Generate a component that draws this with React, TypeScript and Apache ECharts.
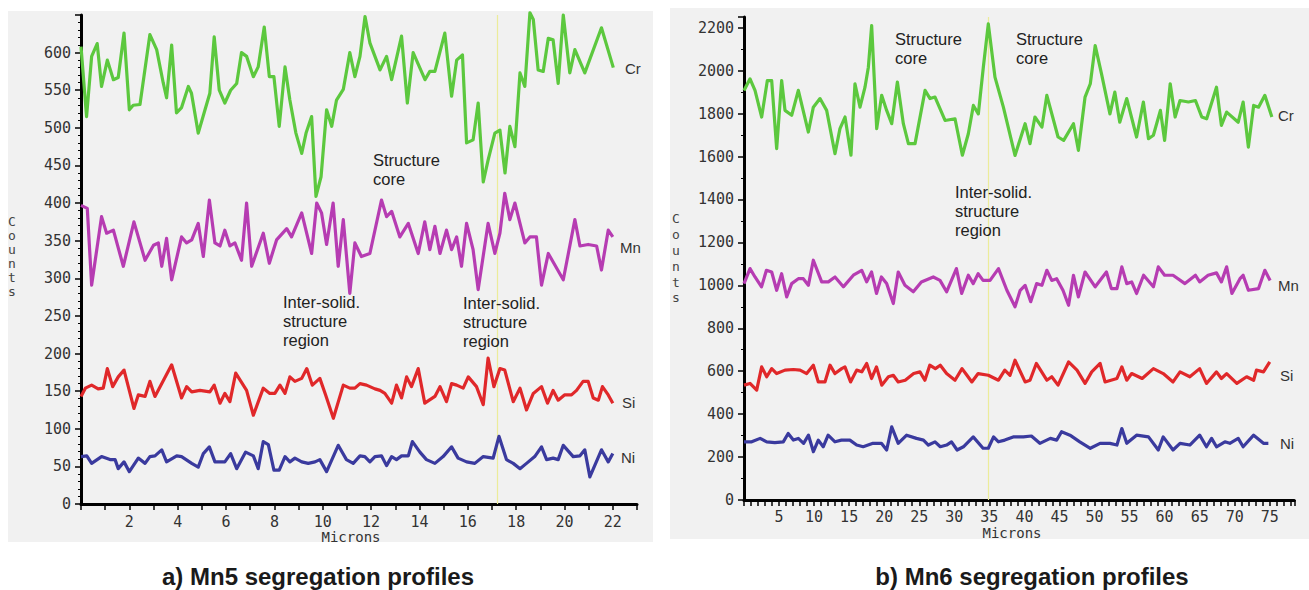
import React, { useEffect, useRef } from "react";
import * as echarts from "echarts";

// ---- Chart a) Mn5 : [micron, counts]
const crA = [[0,608],[0.23,515],[0.44,595],[0.67,612],[0.85,555],[1.09,590],[1.34,564],[1.54,567],[1.78,626],[2.0,524],[2.16,530],[2.44,531],[2.85,624],[3.13,604],[3.4,560],[3.54,540],[3.75,610],[3.95,520],[4.16,527],[4.44,555],[4.57,546],[4.85,493],[5.13,524],[5.33,546],[5.51,621],[5.72,550],[5.95,533],[6.19,550],[6.44,559],[6.64,600],[6.85,595],[7.13,568],[7.33,581],[7.58,634],[7.79,568],[7.98,568],[8.2,502],[8.44,581],[8.64,537],[8.89,493],[9.13,466],[9.31,493],[9.54,515],[9.72,409],[9.93,435],[10.16,524],[10.37,502],[10.57,537],[10.85,551],[11.12,600],[11.33,568],[11.54,595],[11.75,648],[11.95,613],[12.37,577],[12.64,595],[12.85,564],[13.26,622],[13.5,533],[13.74,600],[14.23,564],[14.43,575],[14.64,575],[15.05,626],[15.33,542],[15.54,590],[15.78,597],[15.95,480],[16.22,484],[16.43,533],[16.64,428],[16.84,457],[17.12,493],[17.33,497],[17.54,440],[17.74,502],[17.95,475],[18.16,573],[18.36,555],[18.57,653],[18.71,644],[18.91,577],[19.12,575],[19.33,619],[19.53,617],[19.74,559],[19.95,650],[20.22,573],[20.43,604],[20.84,573],[21.53,633],[22.02,580]];
const mnA = [[0,397],[0.26,393],[0.44,291],[0.85,382],[1.06,360],[1.34,364],[1.75,316],[2.19,375],[2.65,324],[3.0,344],[3.2,347],[3.34,316],[3.54,353],[3.75,298],[4.16,355],[4.37,347],[4.58,351],[4.85,373],[5.06,329],[5.31,404],[5.54,347],[5.75,343],[5.95,364],[6.16,343],[6.37,347],[6.64,324],[6.85,400],[7.06,316],[7.54,360],[7.79,320],[8.09,351],[8.51,366],[8.71,355],[9.13,387],[9.54,333],[9.75,400],[9.95,387],[10.16,345],[10.43,400],[10.64,316],[10.85,378],[11.12,280],[11.33,347],[11.6,329],[11.95,333],[12.43,404],[12.64,382],[12.85,389],[13.19,355],[13.54,373],[13.95,333],[14.22,375],[14.43,338],[14.64,369],[14.85,333],[15.12,364],[15.33,338],[15.54,355],[15.74,316],[15.95,373],[16.22,338],[16.43,285],[16.84,373],[17.12,333],[17.33,360],[17.53,413],[17.74,378],[17.95,400],[18.36,347],[18.57,355],[18.84,355],[19.05,291],[19.33,333],[19.95,298],[20.43,378],[20.64,343],[20.98,345],[21.33,343],[21.53,311],[21.81,364],[22.0,355]];
const siA = [[0,143],[0.18,154],[0.44,158],[0.71,153],[0.92,154],[1.09,180],[1.31,156],[1.54,169],[1.78,178],[2.19,127],[2.37,145],[2.65,143],[2.85,163],[3.06,143],[3.75,185],[4.16,141],[4.37,156],[4.58,149],[4.92,151],[5.33,149],[5.51,158],[5.75,134],[5.95,147],[6.16,136],[6.4,174],[6.85,151],[7.13,118],[7.54,154],[7.81,147],[8.02,147],[8.23,158],[8.44,147],[8.64,169],[8.85,163],[9.13,167],[9.34,180],[9.57,158],[9.88,167],[10.12,145],[10.44,114],[10.85,158],[11.12,154],[11.33,154],[11.54,160],[11.81,158],[12.16,153],[12.37,151],[12.57,147],[12.85,134],[13.05,158],[13.26,141],[13.47,169],[13.67,156],[13.95,180],[14.22,134],[14.64,143],[14.85,156],[15.12,136],[15.33,160],[15.54,158],[15.81,154],[16.02,169],[16.36,156],[16.64,132],[16.84,194],[17.08,156],[17.33,180],[17.53,178],[17.88,136],[18.16,154],[18.43,125],[18.71,147],[19.05,156],[19.3,134],[19.53,151],[19.74,138],[20.0,145],[20.29,145],[20.5,151],[20.77,163],[20.98,163],[21.19,141],[21.4,138],[21.57,156],[21.81,145],[22.0,134]];
const niA = [[0,63],[0.24,64],[0.44,54],[0.85,63],[1.2,59],[1.41,59],[1.54,47],[1.78,56],[2.0,43],[2.37,61],[2.65,54],[2.85,63],[3.06,64],[3.34,72],[3.54,56],[3.96,64],[4.16,63],[4.58,54],[4.85,49],[5.06,67],[5.31,76],[5.54,56],[5.95,56],[6.19,67],[6.44,47],[6.81,69],[7.13,64],[7.33,47],[7.54,83],[7.75,79],[7.98,45],[8.2,45],[8.44,63],[8.64,56],[8.85,61],[9.13,56],[9.4,54],[9.68,56],[9.88,59],[10.16,43],[10.64,78],[10.98,59],[11.26,54],[11.54,64],[11.74,63],[11.95,56],[12.16,63],[12.43,64],[12.64,51],[12.85,63],[13.05,59],[13.26,64],[13.54,64],[13.71,83],[14.02,69],[14.29,59],[14.64,54],[14.98,63],[15.33,76],[15.6,61],[15.95,56],[16.29,54],[16.64,63],[17.05,61],[17.29,90],[17.6,59],[17.88,54],[18.16,47],[18.43,54],[18.77,63],[19.05,76],[19.26,59],[19.53,61],[19.74,59],[19.95,78],[20.36,63],[20.64,64],[20.84,72],[21.05,36],[21.53,72],[21.81,56],[22.0,67]];

// ---- Chart b) Mn6 : [micron, counts]
const crB = [[0,1908],[0.86,1962],[1.57,1908],[2.52,1784],[3.33,1954],[3.95,1954],[4.66,1637],[5.37,1954],[5.85,1815],[6.8,1792],[7.75,1908],[9.18,1714],[9.89,1830],[10.84,1870],[11.79,1815],[12.98,1613],[13.69,1730],[14.41,1784],[15.26,1606],[15.83,1939],[16.55,1830],[17.26,1923],[17.74,2016],[18.21,2210],[18.93,1730],[19.64,1885],[20.35,1815],[21.07,1753],[21.88,1947],[22.73,1753],[23.45,1660],[24.4,1660],[25.83,1908],[26.54,1870],[27.25,1877],[28.68,1768],[30.1,1776],[31.15,1606],[32.0,1706],[32.72,1838],[33.43,1799],[34.14,2016],[34.85,2218],[35.8,1970],[37.0,1830],[38.66,1605],[40.1,1753],[40.8,1660],[41.5,1784],[42.5,1737],[43.2,1885],[44.8,1691],[45.6,1675],[47.0,1753],[47.7,1629],[48.65,1877],[49.4,1939],[50.1,2117],[51.0,1985],[52.2,1799],[52.9,1900],[53.6,1760],[54.6,1870],[56.0,1691],[56.97,1854],[57.7,1683],[58.4,1699],[59.4,1815],[60.0,1675],[60.8,1939],[61.5,1784],[62.2,1861],[63.4,1854],[64.4,1861],[65.3,1784],[66.0,1776],[67.4,1923],[68.1,1745],[68.85,1807],[70.5,1760],[71.2,1854],[71.95,1644],[72.7,1838],[73.4,1830],[74.3,1885],[75.3,1784]];
const mnB = [[0,1008],[0.86,1078],[1.57,1039],[2.5,993],[3.2,1070],[3.95,1062],[4.66,977],[5.37,1054],[6.09,946],[6.8,1008],[7.75,1031],[8.46,1031],[9.18,1000],[9.89,1117],[11.08,1016],[12.03,1016],[12.98,1039],[14.17,993],[15.6,1047],[16.8,1070],[17.5,1016],[18.2,1062],[18.9,962],[19.6,1039],[20.35,1008],[21.3,915],[22.0,1062],[22.96,1000],[24.15,970],[25.3,1016],[27.0,1039],[27.96,1023],[28.9,970],[30.3,1078],[31.05,962],[32.0,1047],[32.7,1008],[33.4,1054],[34.1,1023],[35.1,1023],[36.3,1078],[37.5,977],[38.66,900],[39.4,977],[40.1,1000],[40.9,924],[41.75,1008],[42.5,1000],[43.2,1070],[43.9,1023],[44.6,1031],[45.5,977],[46.3,907],[47.0,1047],[47.7,946],[48.65,1062],[50.1,993],[51.7,1062],[52.4,985],[53.2,985],[53.9,1086],[54.6,1008],[55.3,1016],[56.0,962],[57.0,1047],[58.4,993],[59.1,1086],[60.0,1047],[61.2,1047],[62.9,1008],[64.4,1047],[65.0,1016],[66.2,1047],[67.4,1058],[68.1,1016],[68.85,1086],[69.6,962],[70.75,1031],[71.2,1047],[71.95,977],[73.4,985],[74.3,1070],[75.05,1023]];
const siB = [[0,535],[0.86,543],[1.81,512],[2.52,620],[3.24,574],[3.95,612],[4.66,589],[5.85,605],[7.04,608],[8.0,605],[8.94,589],[9.89,628],[10.6,550],[11.55,550],[12.27,628],[12.98,589],[13.93,612],[14.4,620],[15.2,550],[16.07,605],[16.8,597],[17.5,636],[18.2,566],[18.9,620],[19.65,535],[20.6,574],[21.3,581],[22.0,550],[23.0,558],[24.2,589],[25.1,597],[25.8,558],[26.5,628],[27.3,612],[28.0,628],[28.9,589],[30.1,558],[31.1,612],[31.8,581],[32.5,550],[33.4,589],[34.85,581],[36.3,558],[37.2,605],[37.95,581],[38.66,651],[40.1,550],[40.8,558],[41.7,636],[43.2,558],[43.9,574],[44.8,535],[46.3,643],[47.5,605],[48.65,543],[49.6,597],[50.8,636],[51.5,550],[53.2,566],[53.9,620],[54.6,558],[55.3,589],[56.8,566],[58.4,612],[59.8,589],[61.2,550],[62.2,597],[63.6,574],[65.0,612],[65.97,543],[67.4,597],[68.1,566],[68.85,589],[70.3,543],[71.7,574],[72.7,558],[73.1,605],[74.1,597],[75.0,643]];
const niB = [[0,271],[1.1,271],[2.3,287],[3.24,271],[4.4,267],[5.6,271],[6.3,310],[7.04,279],[7.75,287],[8.5,264],[9.2,302],[9.9,225],[10.6,279],[11.3,248],[12.0,302],[12.98,271],[13.9,279],[15.1,279],[16.07,256],[17.0,248],[18.4,264],[19.6,264],[20.35,233],[21.07,341],[22.0,264],[23.2,302],[24.6,287],[25.6,279],[26.3,256],[27.25,271],[28.0,248],[28.9,256],[29.6,271],[30.4,233],[31.3,248],[32.7,294],[34.1,241],[34.85,241],[35.6,294],[36.3,271],[37.2,279],[38.4,294],[39.85,294],[41.0,298],[42.2,264],[43.7,287],[44.6,279],[45.3,318],[46.5,302],[47.9,271],[49.4,241],[50.8,264],[52.2,264],[53.2,256],[53.9,333],[54.6,264],[56.0,302],[57.7,294],[59.1,233],[59.8,294],[61.2,233],[62.2,264],[63.6,256],[65.0,302],[65.97,248],[66.7,287],[67.4,248],[68.6,271],[69.3,264],[70.5,287],[71.2,248],[72.7,302],[74.1,264],[74.8,264]];

const markerA = 17.2;
const markerB = 34.8;

const titles = ["a) Mn5 segregation profiles", "b) Mn6 segregation profiles"];
const elementNames = ["Cr", "Mn", "Si", "Ni"];
const colors = ["#5cc83e", "#b63cb2", "#e0282a", "#3a3a9e"];

const MONO = "'DejaVu Sans Mono', monospace";
const SANS = "'Liberation Sans', Arial, sans-serif";

function axisCommon() {
  return {
    axisLine: { show: true, lineStyle: { color: "#000", width: 3 } },
    axisTick: { show: true, length: 6, lineStyle: { color: "#000", width: 1.5 } },
    splitLine: { show: false },
  };
}

export default function App() {
  const ref = useRef<HTMLDivElement>(null);
  useEffect(() => {
    if (!ref.current) return;
    const chart = echarts.init(ref.current, undefined, { renderer: "svg" });

    const seriesA = [crA, mnA, siA, niA];
    const seriesB = [crB, mnB, siB, niB];
    const mk = (data: number[][], i: number, g: number, marker?: number) => {
      const s: any = {
        type: "line",
        name: elementNames[i] + (g === 0 ? " a" : " b"),
        xAxisIndex: g,
        yAxisIndex: g,
        data,
        showSymbol: false,
        symbol: "none",
        clip: false,
        lineStyle: { color: colors[i], width: 3.2, join: "round" },
        z: 3,
      };
      if (marker !== undefined) {
        s.markLine = {
          silent: true,
          symbol: "none",
          label: { show: false },
          lineStyle: { color: "#ecec9a", width: 1.2, type: "solid" },
          data: [{ xAxis: marker }],
          z: 1,
        };
      }
      return s;
    };

    const labelStyle = { fontFamily: MONO, fontSize: 15, color: "#333" };

    const txt = (text: string, x: number, y: number, extra: any = {}) => ({
      type: "text",
      x,
      y,
      z: 10,
      style: {
        text,
        fill: "#222",
        font: `16.5px ${SANS}`,
        lineHeight: 19,
        verticalAlign: "top",
        align: "left",
        ...extra,
      },
    });

    const option: any = {
      animation: false,
      backgroundColor: "#ffffff",
      grid: [
        { left: 81, top: 15, width: 556, height: 489 },
        { left: 744, top: 17, width: 550.3, height: 483 },
      ],
      xAxis: [
        {
          type: "value", gridIndex: 0, min: 0, max: 23, interval: 1,
          ...axisCommon(),
          axisLabel: {
            ...labelStyle, margin: 10,
            formatter: (v: number) => (v > 0 && v % 2 === 0 ? String(v) : ""),
          },
        },
        {
          type: "value", gridIndex: 1, min: 0, max: 78.5, interval: 1,
          ...axisCommon(),
          axisLabel: {
            ...labelStyle, margin: 9,
            formatter: (v: number) => (v > 0 && v % 5 === 0 ? String(v) : ""),
          },
        },
      ],
      yAxis: [
        {
          type: "value", gridIndex: 0, min: 0, max: 650, interval: 50,
          ...axisCommon(),
          minorTick: { show: true, splitNumber: 5, length: 3, lineStyle: { color: "#000", width: 1 } },
          axisLabel: {
            ...labelStyle, margin: 10,
            formatter: (v: number) => (v <= 600 ? String(v) : ""),
          },
        },
        {
          type: "value", gridIndex: 1, min: 0, max: 2250, interval: 200,
          ...axisCommon(),
          minorTick: { show: true, splitNumber: 2, length: 3, lineStyle: { color: "#000", width: 1 } },
          axisLabel: {
            ...labelStyle, margin: 10,
            formatter: (v: number) => (v % 200 === 0 ? String(v) : ""),
          },
        },
      ],
      series: [
        ...seriesA.map((d, i) => mk(d, i, 0, i === 2 ? markerA : undefined)),
        ...seriesB.map((d, i) => mk(d, i, 1, i === 2 ? markerB : undefined)),
      ],
      graphic: [
        { type: "rect", z: -10, shape: { x: 8, y: 11, width: 645, height: 531 }, style: { fill: "#f1f1f1" } },
        { type: "rect", z: -10, shape: { x: 670, y: 8, width: 639, height: 531 }, style: { fill: "#f1f1f1" } },
        // axis names
        txt("Microns", 351, 537, { font: `14px ${MONO}`, align: "center", verticalAlign: "middle", fill: "#333" }),
        txt("Microns", 1012, 533, { font: `14px ${MONO}`, align: "center", verticalAlign: "middle", fill: "#333" }),
        txt("C\no\nu\nn\nt\ns", 12, 214, { font: `13px ${MONO}`, align: "center", lineHeight: 14, fill: "#444" }),
        txt("C\no\nu\nn\nt\ns", 676, 211, { font: `13px ${MONO}`, align: "center", lineHeight: 15.8, fill: "#444" }),
        // element labels
        txt(elementNames[0], 625, 68, { font: `15px ${SANS}`, verticalAlign: "middle", fill: "#333" }),
        txt(elementNames[1], 620, 247, { font: `15px ${SANS}`, verticalAlign: "middle", fill: "#333" }),
        txt(elementNames[2], 622, 402, { font: `15px ${SANS}`, verticalAlign: "middle", fill: "#333" }),
        txt(elementNames[3], 621, 457, { font: `15px ${SANS}`, verticalAlign: "middle", fill: "#333" }),
        txt(elementNames[0], 1278, 115, { font: `15px ${SANS}`, verticalAlign: "middle", fill: "#333" }),
        txt(elementNames[1], 1278, 285, { font: `15px ${SANS}`, verticalAlign: "middle", fill: "#333" }),
        txt(elementNames[2], 1280, 375, { font: `15px ${SANS}`, verticalAlign: "middle", fill: "#333" }),
        txt(elementNames[3], 1280, 443, { font: `15px ${SANS}`, verticalAlign: "middle", fill: "#333" }),
        // annotations
        txt("Structure\ncore", 373, 150.5),
        txt("Inter-solid.\nstructure\nregion", 283, 292),
        txt("Inter-solid.\nstructure\nregion", 463, 293.5),
        txt("Structure\ncore", 895, 30, { lineHeight: 18.5 }),
        txt("Structure\ncore", 1016, 30, { lineHeight: 18.5 }),
        txt("Inter-solid.\nstructure\nregion", 955, 182.5),
        // titles
        txt(titles[0], 318, 576, { font: `bold 24px ${SANS}`, align: "center", verticalAlign: "middle", fill: "#1a1a1a" }),
        txt(titles[1], 1032, 576, { font: `bold 24px ${SANS}`, align: "center", verticalAlign: "middle", fill: "#1a1a1a" }),
      ],
    };
    chart.setOption(option);
    return () => chart.dispose();
  }, []);
  return (
    <div
      ref={ref}
      style={{ position: "fixed", left: 0, top: 0, width: 1309, height: 590, background: "#fff" }}
    />
  );
}
